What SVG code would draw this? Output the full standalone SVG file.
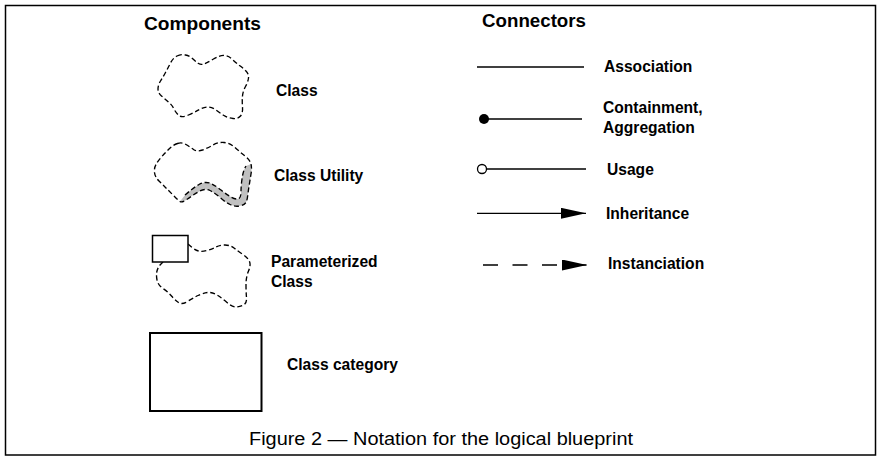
<svg xmlns="http://www.w3.org/2000/svg" width="883" height="464" viewBox="0 0 883 464">
<style>
.t{font-family:"Liberation Sans",Arial,sans-serif;font-weight:bold;font-size:15.6px;fill:#000}
.h{font-family:"Liberation Sans",Arial,sans-serif;font-weight:bold;font-size:17.5px;fill:#000}
.cap{font-family:"Liberation Sans",Arial,sans-serif;font-size:17.5px;fill:#000}
.cloud{fill:none;stroke:#000;stroke-width:1.35;stroke-dasharray:5 2.8;stroke-linejoin:round}
.ln{stroke:#000;stroke-width:1.3;fill:none}
.box{fill:#fff;stroke:#000}
</style>
<defs>
<marker id="tri" viewBox="0 0 25 11" refX="25" refY="5.5" markerWidth="25" markerHeight="11" markerUnits="userSpaceOnUse" orient="auto">
<path d="M0,0 L25,5.5 L0,11 Z" fill="#000"/>
</marker>
</defs>
<rect x="5.5" y="5.5" width="870" height="449.5" fill="#fff" stroke="#000" stroke-width="1.5"/>

<text class="h" x="144" y="30" textLength="117" lengthAdjust="spacingAndGlyphs">Components</text>
<text class="h" x="482" y="27" textLength="104" lengthAdjust="spacingAndGlyphs">Connectors</text>

<g id="class">
<path class="cloud" d="M177,56 Q181,54 185.5,55 Q190,56 193,59 Q196,62 198.5,63.5 Q201,65 204,64 Q207,63 213.5,59 Q220,55 224.5,55.5 Q229,56 232.5,59.5 Q236,63 239.5,65.5 Q243,68 246,71 Q249,74 248.5,78 Q248,82 245.5,86.5 Q243,91 242.5,96 Q242,101 242.5,107 Q243,113 240.5,116 Q238,119 233,118.5 Q228,118 224,115.5 Q220,113 216,110 Q212,107 208,107 Q204,107 199.5,109.5 Q195,112 188.5,115 Q182,118 179,115.5 Q176,113 174,109 Q172,105 168.5,102 Q165,99 161.5,96 Q158,93 158,89 Q158,85 160.5,81 Q163,77 165.5,72.5 Q168,68 170.5,63 Q173,58 177,56 Z"/>
<text class="t" x="276" y="96">Class</text>
</g>

<g id="class-utility">
<path d="M251,164 Q252,168 251,174 Q250,180 249,186.5 Q248,193 247.5,197 Q247,201 245.5,203 Q244,205 239.5,206 Q235,207 230,204.5 Q225,202 220,197.5 Q215,193 210,190.5 Q205,188 199,191.5 Q193,195 187.5,199 Q182,203 180,201.5 L185,195 Q193,188 199,184.5 Q205,181 211,183.5 Q216,186 221,190 Q226,194 231,197 Q236,200 239,198.5 Q241,197 241,192 Q241,186 242,179 Q243,171 246,166 Z" fill="#c0c0c0"/>
<path class="cloud" d="M185,195 Q193,188 199,184.5 Q205,181 211,183.5 Q216,186 221,190 Q226,194 231,197 Q236,200 239,198.5 Q241,197 241,192 Q241,186 242,179 Q243,171 246,166"/>
<path class="cloud" d="M177.5,143.5 Q182,142 186,144.5 Q190,147 193.5,149.5 Q197,152 202.5,150 Q208,148 213,145 Q218,142 224,142.5 Q230,143 235,147.5 Q240,152 245,156 Q250,160 251,164 Q252,168 251,174 Q250,180 249,186.5 Q248,193 247.5,197 Q247,201 245.5,203 Q244,205 239.5,206 Q235,207 230,204.5 Q225,202 220,197.5 Q215,193 210,190.5 Q205,188 199,191.5 Q193,195 187.5,199 Q182,203 180,201.5 Q178,200 174,196 Q170,192 166.5,188.5 Q163,185 159,181 Q155,177 154.5,172.5 Q154,168 156,164.5 Q158,161 161.5,157 Q165,153 169,149 Q173,145 177.5,143.5 Z"/>
<text class="t" x="274" y="181">Class Utility</text>
</g>

<g id="parameterized-class">
<path class="cloud" d="M188,244 L191.5,247 Q195,250 198.5,251 Q202,252 207,250.5 Q212,249 216,247 Q220,245 225,245 Q230,245 234,248 Q238,251 243,254.5 Q248,258 249.5,261.5 Q251,265 248.5,271 Q246,277 246,284.5 Q246,292 246.5,297.5 Q247,303 243.5,305 Q240,307 236,307 Q232,307 227,302.5 Q222,298 217,295 Q212,292 207.5,292.5 Q203,293 198,295.5 Q193,298 187.5,301.5 Q182,305 178.5,302.5 Q175,300 171.5,296 Q168,292 163,288.5 Q158,285 157,280 Q156,275 157,271 Q158,267 160.5,264.5 L163,262"/>
<rect class="box" x="152.5" y="235.5" width="35.5" height="26.5" stroke-width="1.5"/>
<text class="t" x="271" y="267">Parameterized</text>
<text class="t" x="271" y="287">Class</text>
</g>

<g id="class-category">
<rect class="box" x="150" y="333" width="111.5" height="78" stroke-width="2"/>
<text class="t" x="287" y="370">Class category</text>
</g>

<g id="connectors">
<line class="ln" x1="477" y1="67" x2="584" y2="67"/>
<circle cx="484" cy="119" r="5" fill="#000"/>
<line class="ln" x1="484" y1="119" x2="582" y2="119"/>
<circle cx="482" cy="169" r="4.5" fill="#fff" stroke="#000" stroke-width="1.3"/>
<line class="ln" x1="486.5" y1="169" x2="586" y2="169"/>
<line class="ln" x1="477" y1="213.3" x2="586" y2="213.3" marker-end="url(#tri)"/>
<line class="ln" x1="483" y1="265" x2="587" y2="265" stroke-dasharray="15 14.5" marker-end="url(#tri)"/>
</g>

<g id="connector-labels">
<text class="t" x="604" y="72">Association</text>
<text class="t" x="603" y="113">Containment,</text>
<text class="t" x="603" y="133">Aggregation</text>
<text class="t" x="607" y="175">Usage</text>
<text class="t" x="606" y="219">Inheritance</text>
<text class="t" x="608" y="269">Instanciation</text>
</g>

<text class="cap" x="249" y="445" textLength="384" lengthAdjust="spacingAndGlyphs">Figure 2 — Notation for the logical blueprint</text>
</svg>
